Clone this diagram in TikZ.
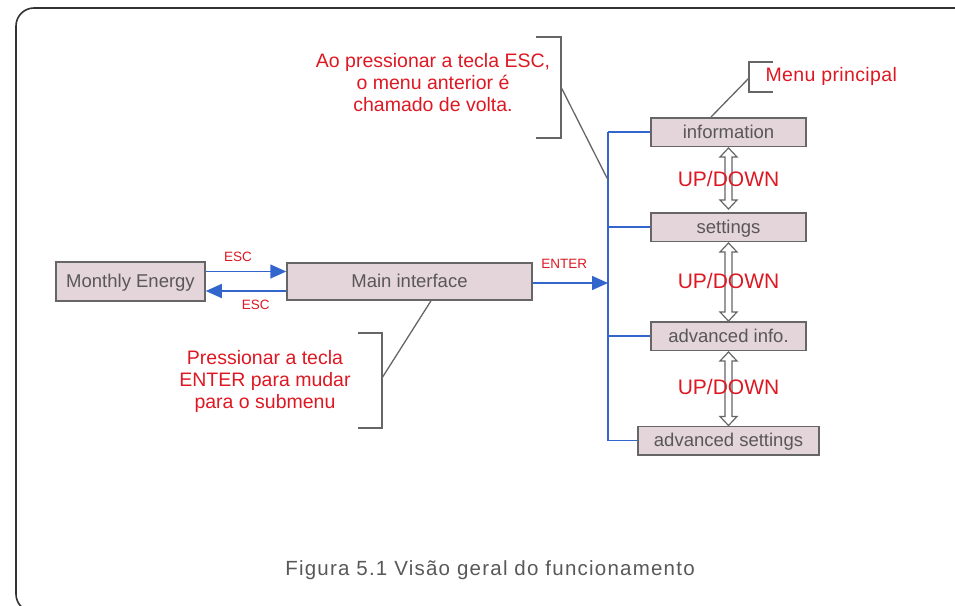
\documentclass[tikz,border=0pt]{standalone}
\usepackage{fontspec}
\setmainfont{Liberation Sans}
\usetikzlibrary{arrows.meta,calc,positioning}
\definecolor{boxfill}{HTML}{E3D5DA}
\definecolor{boxline}{HTML}{666666}
\definecolor{txtgray}{HTML}{595757}
\definecolor{notered}{HTML}{DD1822}
\definecolor{busblue}{HTML}{3366CC}
\tikzset{
	menubox/.style={draw=boxline,line width=1.5pt,fill=boxfill,inner sep=0pt,
		text height=12.5pt,text depth=0pt,
		text=txtgray,font=\fontsize{18.5}{20}\selectfont},
	bus/.style={draw=busblue,line width=1.8pt},
	busarrow/.style={bus,line width=1.5pt,-{Triangle[length=16pt,width=14pt]}},
	note/.style={text=notered,align=center,font=\fontsize{19.5}{22}\selectfont},
	keylabel/.style={text=notered,font=\fontsize{13.5}{15}\selectfont},
	bracket/.style={draw=boxline,line width=1.3pt},
	updown/.style={draw=boxline,line width=1.2pt,fill=white},
	updownlabel/.style={text=notered,font=\fontsize{21}{22}\selectfont}
}

\begin{document}
\begin{tikzpicture}[x=1pt,y=-1pt]
		\useasboundingbox (0,0) rectangle (955,605);
		\begin{scope}
			\clip (0,0) rectangle (955,605);
			\draw[line width=1.6pt,draw=black!80,rounded corners=18pt] (16,8) rectangle (975,612);
		\end{scope}
		% boxes
		\node[menubox,minimum width=149pt,minimum height=39pt] (monthly) at (130.5,281.5) {Monthly Energy};
		\node[menubox,minimum width=245pt,minimum height=37pt] (main) at (409.5,281.5) {Main interface};
		\foreach \name/\y/\w/\txt in {info/132/155/information,sett/227/155/settings,%
			advinfo/336/155/advanced info.,advset/440.5/181/advanced settings}{
			\node[menubox,minimum width=\w pt,minimum height=28.5pt] (\name) at (728.5,\y) {\txt};
		}
		% blue connectors
		\coordinate (bus) at (608,0);
		\coordinate (enterend) at (608,283);
		\draw[busarrow] ([yshift=10pt]monthly.east) -- ([yshift=10pt]main.west)
			node[keylabel,pos=0.4,above=6pt] (esc1) {ESC};
		\draw[busarrow] ([yshift=-9.5pt]main.west) -- ([yshift=-9.5pt]monthly.east)
			node[keylabel,pos=0.38,below=5pt] (esc2) {ESC};
		\draw[busarrow] ([yshift=-1.5pt]main.east) -- (enterend)
			node[keylabel,pos=0.42,above=10pt] (enter) {ENTER};
		\draw[bus] (info.west -| bus) -- (advset.west -| bus);
		\foreach \name in {info,sett,advinfo,advset}{
			\draw[bus,line width=1.3pt] (\name.west) -- (\name.west -| bus);
		}
		% up/down arrows
		\foreach \a/\b/\gap in {info/sett/3,sett/advinfo/0,advinfo/advset/0}{
			\draw[updown] let \p1=([yshift=-1pt]\a.south), \p2=([yshift=\gap pt]\b.north) in
				(\x1,\y1) -- (\x1+8.5pt,\y1-9pt) -- (\x1+3.5pt,\y1-9pt) -- (\x1+3.5pt,\y2+9pt)
				-- (\x1+8.5pt,\y2+9pt) -- (\x1,\y2) -- (\x1-8.5pt,\y2+9pt) -- (\x1-3.5pt,\y2+9pt)
				-- (\x1-3.5pt,\y1-9pt) -- (\x1-8.5pt,\y1-9pt) -- cycle;
			\node[updownlabel] (\a-ud) at ($(\a.south)!0.5!(\b.north)+(0,-1)$) {UP/DOWN};
		}
		% notes
		\node[note] (escnote) at (433,83) {Ao pressionar a tecla ESC,\\o menu anterior é\\chamado de volta.};
		\draw[bracket] (536,37) -- (561,37) -- (561,138) -- (536,138);
		\coordinate (escbr) at (561,87);
		\coordinate (escpt) at (608,180);
		\draw[bracket] (escbr) -- (escpt);
		\node[note] (enternote) at (265,381) {Pressionar a tecla\\ENTER para mudar\\para o submenu};
		\draw[bracket] (358,333) -- (382,333) -- (382,428) -- (358,428);
		\coordinate (enterbr) at (382,378);
		\draw[bracket] (enterbr) -- ([xshift=21.5pt]main.south);
		\node[note,anchor=west,font=\fontsize{19.5}{22}\selectfont\addfontfeatures{LetterSpace=2}]
			(menunote) at (762,76) {Menu principal};
		\draw[bracket] (773,62) -- (749,62) -- (749,92) -- (773,92);
		\coordinate (menubr) at (749,78);
		\draw[bracket] (menubr) -- ([xshift=-17.5pt]info.north);
		% caption
		\node[text=txtgray,font=\fontsize{20.5}{22}\selectfont\addfontfeatures{LetterSpace=6}]
			(caption) at (490,570) {Figura 5.1 Visão geral do funcionamento};
	\end{tikzpicture}
\end{document}
